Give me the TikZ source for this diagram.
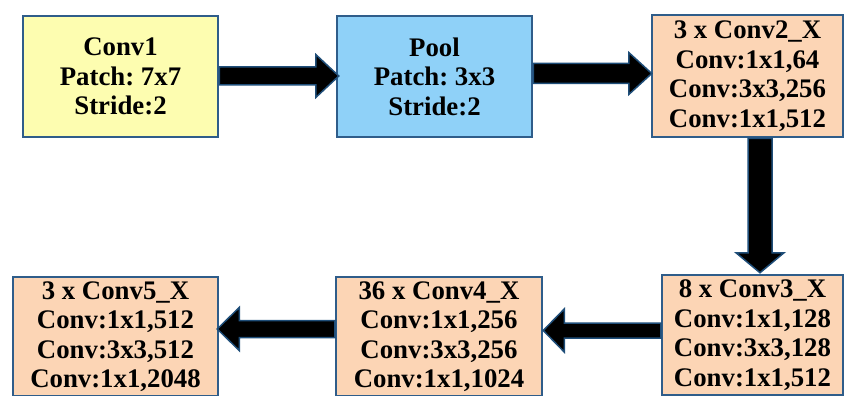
\documentclass[tikz,border=0pt]{standalone}
\usepackage{fontspec}
\setmainfont{Liberation Serif}
\usetikzlibrary{calc}
\frenchspacing
\definecolor{boxedge}{HTML}{2F5D8A}
\definecolor{arrowedge}{HTML}{1F4E79}
\definecolor{convyellow}{HTML}{FDFDB0}
\definecolor{poolblue}{HTML}{8FD1F8}
\definecolor{blockpeach}{HTML}{FCD5B5}
\tikzset{
  layer/.style={draw=boxedge, line width=2.5pt, inner sep=0pt, align=center,
    font=\fontsize{26.8}{29.5}\selectfont\bfseries},
  blockarrow/.style={fill=black, draw=arrowedge, line width=1.5pt, line join=miter},
}
% right/left pointing block arrow: tail point, tip point, shaft half width, head half width, head length
\newcommand\hblock[5]{%
  \draw[blockarrow] let \p1=#1, \p2=#2, \n1={sign(\x2-\x1)} in
    (\x1,\y2+#3) -- (\x2-\n1*#5,\y2+#3) -- (\x2-\n1*#5,\y2+#4) -- (\x2,\y2)
    -- (\x2-\n1*#5,\y2-#4) -- (\x2-\n1*#5,\y2-#3) -- (\x1,\y2-#3) -- cycle;}
\begin{document}
\begin{tikzpicture}[x=1pt,y=-1pt]
\useasboundingbox (0,0) rectangle (844,396);

\node[layer, fill=convyellow, minimum width=195pt, minimum height=121pt] (conv1) at (120.5,76.5)
  {Conv1\\Patch: 7x7\\Stride:2};
\node[layer, fill=poolblue, minimum width=195pt, minimum height=121pt] (pool) at (434.5,76.5)
  {Pool\\Patch: 3x3\\Stride:2};
\node[layer, fill=blockpeach, minimum width=191pt, minimum height=122pt] (conv2) at (747.5,76)
  {3 x Conv2\_X\\Conv:1x1,64\\Conv:3x3,256\\Conv:1x1,512};
\node[layer, fill=blockpeach, minimum width=181pt, minimum height=120pt] (conv3) at (752.5,335)
  {8 x Conv3\_X\\Conv:1x1,128\\Conv:3x3,128\\Conv:1x1,512};
\node[layer, fill=blockpeach, minimum width=206pt, minimum height=119pt] (conv4) at (439,336.5)
  {36 x Conv4\_X\\Conv:1x1,256\\Conv:3x3,256\\Conv:1x1,1024};
\node[layer, fill=blockpeach, minimum width=205pt, minimum height=119pt] (conv5) at (115.5,336.5)
  {3 x Conv5\_X\\Conv:1x1,512\\Conv:3x3,512\\Conv:1x1,2048};

% top row
\hblock{(conv1.east)}{($(pool.west)+(3,-0.5)$)}{9}{21.5}{23}
\hblock{(pool.east)}{($(conv2.west)+(1,-2.5)$)}{10}{21}{23}
% down the right side
\draw[blockarrow] let \p1=($(conv2.south)+(12.5,0)$), \p2=($(conv3.north)+(7.5,-1)$) in
  (\x1-12,\y1) -- (\x1-12,\y2+20) -- (\x1-24,\y2+20) -- (\x2,\y2)
  -- (\x1+24,\y2+20) -- (\x1+12,\y2+20) -- (\x1+12,\y1) -- cycle;
% bottom row
\hblock{(conv3.west)}{($(conv4.east)+(0,-6)$)}{7.5}{21.5}{21}
\hblock{(conv4.west)}{($(conv5.east)+(-2,-7.5)$)}{8.5}{21.5}{22}
\end{tikzpicture}
\end{document}
